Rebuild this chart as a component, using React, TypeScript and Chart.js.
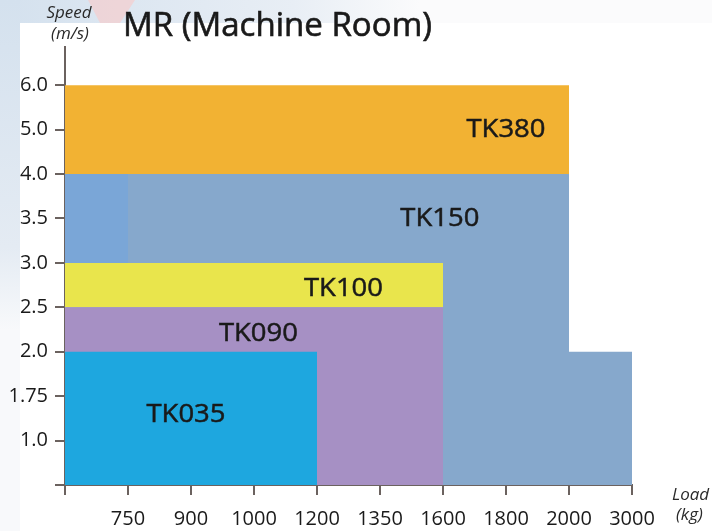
import { useEffect, useRef } from 'react';
import { Chart, registerables } from 'chart.js';

Chart.register(...registerables);

// Category axes (evenly spaced, non-linear values)
const loadLabels = ['', '750', '900', '1000', '1200', '1350', '1600', '1800', '2000', '3000'];
const speedLabels = ['', '1.0', '1.75', '2.0', '2.5', '3.0', '3.5', '4.0', '5.0', '6.0'];

// Region outlines (load label -> speed label), with base speed
const regionNames = ['TK035', 'TK090', 'TK100', 'TK380', '', 'TK150'];
const tk035Load = ['', '1200'];
const tk035Speed = ['2.0', '2.0'];
const tk090Load = ['', '1600'];
const tk090Speed = ['2.5', '2.5'];
const tk100Load = ['', '1600'];
const tk100Speed = ['3.0', '3.0'];
const tk380Load = ['', '2000'];
const tk380Speed = ['6.0', '6.0'];
const tk150StripLoad = ['', '750'];
const tk150StripSpeed = ['4.0', '4.0'];
const tk150Load = ['', '2000', '2000', '3000'];
const tk150Speed = ['4.0', '4.0', '2.0', '2.0'];
const regionLoads = [tk035Load, tk090Load, tk100Load, tk380Load, tk150StripLoad, tk150Load];
const regionSpeeds = [tk035Speed, tk090Speed, tk100Speed, tk380Speed, tk150StripSpeed, tk150Speed];
const regionBases = ['', '', '2.5', '4.0', '3.0', ''];
const regionColors = ['#1ea7df', '#a690c4', '#e9e54c', '#f2b233', '#7aa6d7', '#86a8cc'];

// Label anchors in axis-index units
const labelNames = ['TK380', 'TK150', 'TK100', 'TK090', 'TK035'];
const labelX = [7.0, 5.95, 4.42, 3.07, 1.92];
const labelY = [8.0, 6.0, 4.42, 3.4, 1.58];

const FONT = '"Open Sans", "Noto Sans", sans-serif';
const AXIS = '#6b625f';
const TEXT = '#1a1a1a';

const li = (l: string) => loadLabels.indexOf(l);
const si = (s: string) => speedLabels.indexOf(s);

export default function App() {
  const ref = useRef<HTMLCanvasElement | null>(null);
  useEffect(() => {
    document.body.style.margin = '0';
    const canvas = ref.current!;
    const datasets = regionLoads.map((loads, k) => ({
      label: regionNames[k],
      data: loads.map((l, i) => ({ x: li(l), y: si(regionSpeeds[k][i]) })),
      fill: regionBases[k] === '' ? 'origin' : { value: si(regionBases[k]) },
      backgroundColor: regionColors[k],
      borderColor: regionColors[k],
      borderWidth: 0,
      pointRadius: 0,
      tension: 0,
    }));

    const bgPlugin = {
      id: 'bg',
      beforeDraw(chart: any) {
        const ctx = chart.ctx;
        ctx.save();
        ctx.fillStyle = '#ffffff';
        ctx.fillRect(0, 0, chart.width, chart.height);
        let g = ctx.createLinearGradient(0, 0, 420, 0);
        g.addColorStop(0, '#d4e1ee');
        g.addColorStop(0.7, '#e8eef5');
        g.addColorStop(1, '#fbfbfc');
        ctx.fillStyle = g;
        ctx.fillRect(0, 0, 712, 23);
        g = ctx.createLinearGradient(0, 0, 0, 330);
        g.addColorStop(0, '#d4e1ee');
        g.addColorStop(0.75, '#e4ebf3');
        g.addColorStop(1, '#f8f9fb');
        ctx.fillStyle = g;
        ctx.fillRect(0, 0, 20, 531);
        ctx.fillStyle = 'rgba(245, 205, 205, 0.7)';
        ctx.beginPath();
        ctx.moveTo(88, 0);
        ctx.lineTo(135, 0);
        ctx.lineTo(120, 23);
        ctx.lineTo(100, 23);
        ctx.closePath();
        ctx.fill();
        ctx.restore();
      },
    };

    const fitText = (ctx: any, text: string, cx: number, cy: number, w: number, stroke: number) => {
      const m = ctx.measureText(text).width;
      ctx.save();
      ctx.translate(cx, cy);
      ctx.scale(w / m, 1);
      ctx.fillText(text, 0, 0);
      if (stroke > 0) {
        ctx.lineWidth = stroke;
        ctx.strokeStyle = ctx.fillStyle;
        ctx.strokeText(text, 0, 0);
      }
      ctx.restore();
    };

    const textPlugin = {
      id: 'texts',
      afterDraw(chart: any) {
        const ctx = chart.ctx;
        const xs = chart.scales.x;
        const ys = chart.scales.y;
        ctx.save();
        ctx.fillStyle = TEXT;
        ctx.textBaseline = 'middle';
        ctx.textAlign = 'center';
        ctx.font = `26px ${FONT}`;
        labelNames.forEach((n, i) => {
          fitText(ctx, n, xs.getPixelForValue(labelX[i]), ys.getPixelForValue(labelY[i]), 79, 0.5);
        });
        ctx.textAlign = 'left';
        ctx.font = `32px ${FONT}`;
        fitText(ctx, 'MR (Machine Room)', 123, 27, 309, 0.6);
        ctx.textAlign = 'center';
        ctx.font = `italic 17px ${FONT}`;
        ctx.fillStyle = '#2a2a2a';
        ctx.fillText('Speed', 69, 13);
        ctx.fillText('(m/s)', 70, 34);
        ctx.textAlign = 'left';
        ctx.fillText('Load', 672, 495);
        ctx.fillText('(kg)', 676, 515);
        ctx.restore();
      },
    };

    const tickFont = { family: FONT, size: 20 };
    const chart = new Chart(canvas, {
      type: 'line',
      data: { datasets: datasets as any },
      plugins: [bgPlugin, textPlugin],
      options: {
        animation: false,
        responsive: false,
        devicePixelRatio: 1,
        layout: { padding: { top: 47, right: 80, left: 0, bottom: 0 } },
        plugins: { legend: { display: false }, tooltip: { enabled: false }, title: { display: false } },
        scales: {
          x: {
            type: 'linear',
            min: 0,
            max: loadLabels.length - 1,
            afterBuildTicks: (s: any) => {
              s.ticks = loadLabels.map((_, i) => ({ value: i }));
            },
            afterFit: (s: any) => {
              s.height = 46;
            },
            ticks: {
              callback: (v: any) => loadLabels[v] ?? '',
              font: tickFont,
              color: TEXT,
              padding: 12,
              autoSkip: false,
              maxRotation: 0,
            },
            grid: { drawOnChartArea: false, drawTicks: true, tickLength: 10, color: AXIS, lineWidth: 2 },
            border: { color: AXIS, width: 2 },
          },
          y: {
            type: 'linear',
            min: 0,
            max: 9.86,
            afterBuildTicks: (s: any) => {
              s.ticks = speedLabels.map((_, i) => ({ value: i }));
            },
            afterFit: (s: any) => {
              s.width = 65;
            },
            ticks: {
              callback: (v: any) => speedLabels[v] ?? '',
              font: tickFont,
              color: TEXT,
              padding: 7,
              autoSkip: false,
            },
            grid: { drawOnChartArea: false, drawTicks: true, tickLength: 10, color: AXIS, lineWidth: 2 },
            border: { color: AXIS, width: 2 },
          },
        },
      },
    });
    return () => chart.destroy();
  }, []);
  return <canvas ref={ref} width={712} height={531} style={{ display: 'block', width: 712, height: 531 }} />;
}
